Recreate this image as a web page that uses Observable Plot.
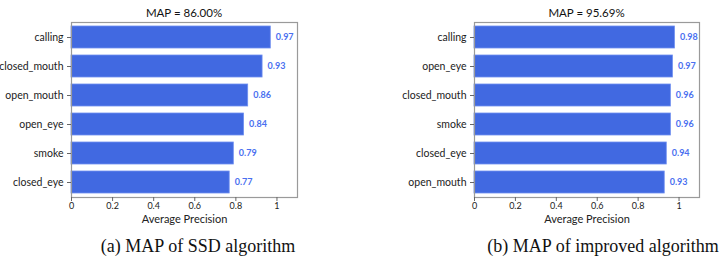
<!DOCTYPE html>
<html>
<head>
<meta charset="utf-8">
<script src="https://cdn.jsdelivr.net/npm/d3@7"></script>
<script src="https://cdn.jsdelivr.net/npm/@observablehq/plot@0.6"></script>
<style>
  html, body { margin: 0; padding: 0; background: #fff; }
  #root { position: relative; width: 727px; height: 266px; overflow: hidden; }
  .title { position: absolute; top: 6px; font-family: Lato, "Open Sans", sans-serif; font-size: 11.5px; color: #111; white-space: nowrap; transform: translateX(-50%); }
  .caption { position: absolute; top: 236px; font-family: "Liberation Serif", "Times New Roman", serif; font-size: 18px; color: #111; white-space: nowrap; transform: translateX(-50%); }
</style>
</head>
<body>
<div id="root"></div>
<script>
// Panel (a): SSD algorithm
const catsA = ["calling", "closed_mouth", "open_mouth", "open_eye", "smoke", "closed_eye"];
const valsA = [0.97, 0.93, 0.86, 0.84, 0.79, 0.77];
const titleA = "MAP = 86.00%";
const captionA = "(a) MAP of SSD algorithm";

// Panel (b): improved algorithm
const catsB = ["calling", "open_eye", "closed_mouth", "smoke", "closed_eye", "open_mouth"];
const valsB = [0.98, 0.97, 0.96, 0.96, 0.94, 0.93];
const titleB = "MAP = 95.69%";
const captionB = "(b) MAP of improved algorithm";

const xTicks = [0, 0.2, 0.4, 0.6, 0.8, 1];
const xLabel = "Average Precision";

const barColor = "#4169e1";
const labelColor = "#4a6ff0";
const frameColor = "#9a9a9a";

const fmt = d => d === 0 ? "0" : d === 1 ? "1" : String(d);

function panel(cats, vals, frameLeft, frameRight) {
  const data = cats.map((c, i) => ({cat: c, v: vals[i]}));
  const width = frameRight + 28;
  return Plot.plot({
    width,
    height: 232,
    marginLeft: frameLeft,
    marginRight: width - frameRight,
    marginTop: 22,
    marginBottom: 35,
    style: {fontFamily: "Lato, 'Open Sans', sans-serif", fontSize: "10px", color: "#222", background: "transparent"},
    x: {domain: [0, 1.1], label: null},
    y: {domain: cats, paddingInner: 0.25, paddingOuter: 0.1, label: null},
    marks: [
      Plot.barX(data, {x: "v", y: "cat", fill: barColor, stroke: "#6f8ff0", strokeWidth: 0.8}),
      Plot.text(data, {x: "v", y: "cat", text: d => d.v.toFixed(2), textAnchor: "start", dx: 5, fill: labelColor, fontWeight: "bold", fontSize: 9}),
      Plot.frame({stroke: frameColor, strokeWidth: 1.2}),
      Plot.axisX({ticks: xTicks, tickFormat: fmt, tickSize: 4, tickPadding: 1, label: null, stroke: "#666", fontSize: 9}),
      Plot.axisY({tickSize: 4, tickPadding: 4, label: null, stroke: "#666", fontSize: 10.5}),
      Plot.text([xLabel], {frameAnchor: "bottom", dy: 25, text: d => d, fontSize: 11, fill: "#222"})
    ]
  });
}

const root = document.getElementById("root");

function addPanel(cats, vals, frameLeft, frameRight, title, caption, captionCenter) {
  const svg = panel(cats, vals, frameLeft, frameRight);
  svg.style.position = "absolute";
  svg.style.left = "0px";
  svg.style.top = "0px";
  root.appendChild(svg);
  const t = document.createElement("div");
  t.className = "title";
  t.textContent = title;
  t.style.left = ((frameLeft + frameRight) / 2) + "px";
  root.appendChild(t);
  const c = document.createElement("div");
  c.className = "caption";
  c.textContent = caption;
  c.style.left = captionCenter + "px";
  root.appendChild(c);
}

addPanel(catsA, valsA, 71, 297, titleA, captionA, 198);
addPanel(catsB, valsB, 474, 699, titleB, captionB, 603);
</script>
</body>
</html>
